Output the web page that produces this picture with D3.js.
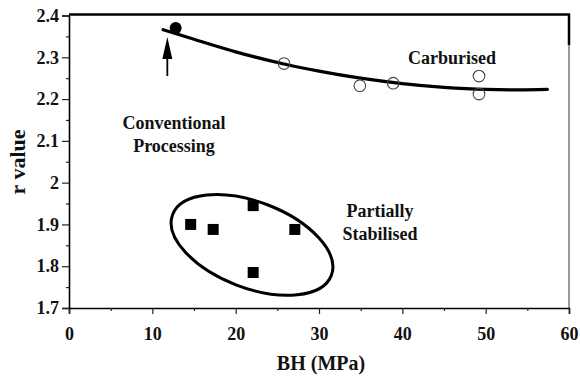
<!DOCTYPE html>
<html>
<head>
<meta charset="utf-8">
<script src="https://cdn.jsdelivr.net/npm/d3@7/dist/d3.min.js"></script>
<style>
  html, body { margin: 0; padding: 0; background: #fff; }
  svg { display: block; }
  svg text { font-family: "Liberation Serif", "DejaVu Serif", serif !important; font-weight: bold; fill: #111; }
</style>
</head>
<body>
<svg id="chart" width="580" height="380"></svg>
<script>
// Carburised samples (open circles)
const carbBH = [25.8, 34.9, 38.9, 49.2, 49.2];
const carbR  = [2.285, 2.232, 2.238, 2.255, 2.212];
// Conventional processing (filled circle)
const convBH = [12.8];
const convR  = [2.37];
// Partially stabilised samples (filled squares)
const partBH = [14.6, 17.3, 22.1, 27.1, 22.1];
const partR  = [1.90, 1.888, 1.945, 1.888, 1.785];
// Trend line through the carburised data
const fitBH = [11.3, 15, 20, 25.8, 30, 35, 40, 45, 50, 54, 57.4];
const fitR  = [2.366, 2.343, 2.313, 2.284, 2.267, 2.250, 2.237, 2.228, 2.223, 2.222, 2.223];
// Axis ticks
const xTicks = [0, 10, 20, 30, 40, 50, 60];
const xMinor = [5, 15, 25, 35, 45, 55];
const yTicks = [1.7, 1.8, 1.9, 2.0, 2.1, 2.2, 2.3, 2.4];
const yTickLabels = ["1.7", "1.8", "1.9", "2", "2.1", "2.2", "2.3", "2.4"];
const yMinor = [1.75, 1.85, 1.95, 2.05, 2.15, 2.25, 2.35];

const FONT = "'Liberation Serif', 'DejaVu Serif', serif";
const svg = d3.select("#chart");
const x = d3.scaleLinear().domain([0, 60]).range([69, 569]);
const y = d3.scaleLinear().domain([1.7, 2.4]).range([308, 15.5]);

// Frame: top and right edges
svg.append("line").attr("x1", x(0)).attr("x2", x(60) + 1).attr("y1", 14.5).attr("y2", 14.5)
  .attr("stroke", "#000").attr("stroke-width", 2.5);
svg.append("line").attr("x1", x(60)).attr("x2", x(60)).attr("y1", 14).attr("y2", 45)
  .attr("stroke", "#000").attr("stroke-width", 2.5);
svg.append("line").attr("x1", x(60)).attr("x2", x(60)).attr("y1", 45).attr("y2", y(1.7))
  .attr("stroke", "#555").attr("stroke-width", 1.2);

// X axis
svg.append("g").attr("transform", `translate(0,${y(1.7)})`)
  .call(d3.axisBottom(x).tickValues(xTicks).tickFormat(d3.format("d")).tickSize(6).tickPadding(13));
svg.append("g").attr("transform", `translate(0,${y(1.7)})`)
  .call(d3.axisBottom(x).tickValues(xMinor).tickFormat("").tickSize(3))
  .call(g => g.select(".domain").remove());

// Y axis
svg.append("g").attr("transform", `translate(${x(0)},0)`)
  .call(d3.axisLeft(y).tickValues(yTicks).tickFormat((d, i) => yTickLabels[i]).tickSize(7).tickPadding(3));
svg.append("g").attr("transform", `translate(${x(0)},0)`)
  .call(d3.axisLeft(y).tickValues(yMinor).tickFormat("").tickSize(3))
  .call(g => g.select(".domain").remove());

svg.selectAll("g").attr("font-family", FONT);
svg.selectAll(".domain").attr("stroke", "#000").attr("stroke-width", 1.6);
svg.selectAll(".tick line").attr("stroke", "#222").attr("stroke-width", 1.2);
svg.selectAll(".tick text").attr("font-size", 18).attr("fill", "#111")
  .style("font-family", FONT).style("font-weight", "bold");

// Axis titles
svg.append("text").attr("x", 321).attr("y", 370).attr("text-anchor", "middle")
  .attr("font-size", 20).text("BH (MPa)");
svg.append("text").attr("transform", "translate(25,162) rotate(-90)").attr("text-anchor", "middle")
  .attr("font-size", 22).text("r value");

// Trend curve
const line = d3.line().x((d, i) => x(fitBH[i])).y((d, i) => y(fitR[i])).curve(d3.curveMonotoneX);
svg.append("path").datum(fitBH).attr("d", line)
  .attr("fill", "none").attr("stroke", "#000").attr("stroke-width", 3.2).attr("stroke-linecap", "round");

// Carburised points
svg.selectAll(".carb").data(carbBH).enter().append("circle")
  .attr("cx", d => x(d)).attr("cy", (d, i) => y(carbR[i])).attr("r", 5.8)
  .attr("fill", "none").attr("stroke", "#444").attr("stroke-width", 1.1);

// Conventional processing point
svg.selectAll(".conv").data(convBH).enter().append("circle")
  .attr("cx", d => x(d)).attr("cy", (d, i) => y(convR[i])).attr("r", 6)
  .attr("fill", "#000");

// Partially stabilised points
const sq = 11;
svg.selectAll(".part").data(partBH).enter().append("rect")
  .attr("x", d => x(d) - sq / 2).attr("y", (d, i) => y(partR[i]) - sq / 2)
  .attr("width", sq).attr("height", sq).attr("fill", "#000");

// Ellipse grouping the partially stabilised samples
svg.append("ellipse")
  .attr("transform", `translate(${x(21.96)},${y(1.851)}) rotate(21)`)
  .attr("rx", 85).attr("ry", 43)
  .attr("fill", "none").attr("stroke", "#000").attr("stroke-width", 3);

// Arrow pointing to the conventional processing point
const ax = x(11.8);
svg.append("line").attr("x1", ax).attr("x2", ax).attr("y1", 76).attr("y2", 52)
  .attr("stroke", "#000").attr("stroke-width", 1.8);
svg.append("path")
  .attr("d", `M${ax},37 L${ax - 5},59 L${ax + 5},59 Z`).attr("fill", "#000");

// Annotations
svg.append("text").attr("x", 452).attr("y", 64).attr("text-anchor", "middle")
  .attr("font-size", 18).text("Carburised");
const conv = svg.append("text").attr("x", 174).attr("text-anchor", "middle").attr("font-size", 18);
conv.append("tspan").attr("x", 174).attr("y", 129).text("Conventional");
conv.append("tspan").attr("x", 174).attr("y", 152).text("Processing");
const part = svg.append("text").attr("x", 380).attr("text-anchor", "middle").attr("font-size", 18);
part.append("tspan").attr("x", 380).attr("y", 217).text("Partially");
part.append("tspan").attr("x", 380).attr("y", 240).text("Stabilised");
</script>
</body>
</html>
